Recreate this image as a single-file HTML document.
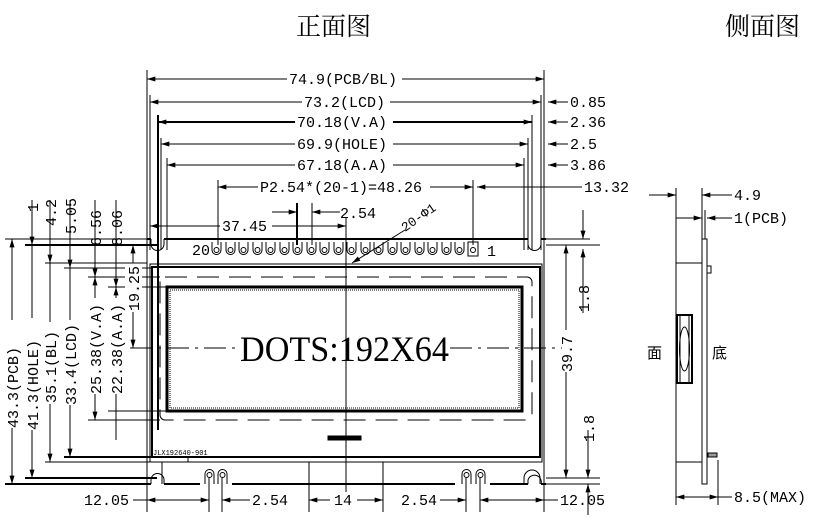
<!DOCTYPE html>
<html><head><meta charset="utf-8"><style>
html,body{margin:0;padding:0;background:#fff;}
svg{display:block}
text{fill:#000}
line,rect,path,circle,ellipse,polyline{stroke:#000;fill:none}
</style></head><body>
<svg width="826" height="520" viewBox="0 0 826 520" xmlns="http://www.w3.org/2000/svg" stroke-width="1" font-family="Liberation Mono, Noto Sans CJK SC, monospace" font-size="15">
<defs>
<marker id="a" viewBox="0 0 10 6" refX="10" refY="3" markerWidth="12" markerHeight="5" orient="auto-start-reverse" markerUnits="userSpaceOnUse"><path d="M0,0L10,3L0,6z" style="fill:#000;stroke:none"/></marker>
</defs>
<text x="296" y="35" font-family="Noto Serif CJK SC, Noto Sans CJK SC, serif" font-size="25">正面图</text>
<text x="725" y="35" font-family="Noto Serif CJK SC, Noto Sans CJK SC, serif" font-size="25">侧面图</text>

<!-- top vertical extension lines -->
<line x1="147" y1="70" x2="147" y2="484"/>
<line x1="544" y1="70" x2="544" y2="484"/>
<line x1="150" y1="95" x2="150" y2="250"/>
<line x1="541" y1="95" x2="541" y2="250"/>
<line x1="158" y1="115" x2="158" y2="430" stroke-width="2"/>
<line x1="532" y1="115" x2="532" y2="250"/>
<line x1="161" y1="138" x2="161" y2="250"/>
<line x1="528" y1="138" x2="528" y2="250"/>
<line x1="167" y1="158" x2="167" y2="250"/>
<line x1="524" y1="158" x2="524" y2="250"/>
<line x1="218" y1="180" x2="218" y2="245"/>
<line x1="473" y1="180" x2="473" y2="245"/>
<line x1="297" y1="203" x2="297" y2="245" stroke-width="2"/>
<line x1="312" y1="203" x2="312" y2="245"/>
<line x1="346" y1="218" x2="346" y2="500"/>

<!-- horizontal dims -->
<line x1="147" y1="79" x2="287" y2="79" marker-start="url(#a)"/><text x="289" y="84">74.9(PCB/BL)</text><line x1="402" y1="79" x2="544" y2="79" marker-end="url(#a)"/>
<line x1="150" y1="102" x2="302" y2="102" marker-start="url(#a)"/><text x="304" y="107">73.2(LCD)</text><line x1="390" y1="102" x2="541" y2="102" marker-end="url(#a)"/>
<line x1="548" y1="102" x2="568" y2="102" marker-start="url(#a)"/><text x="570" y="107">0.85</text>
<line x1="158" y1="122" x2="295" y2="122" marker-start="url(#a)" stroke-width="2"/><text x="297" y="127">70.18(V.A)</text><line x1="393" y1="122" x2="532" y2="122" marker-end="url(#a)" stroke-width="2"/>
<line x1="548" y1="122" x2="568" y2="122" marker-start="url(#a)"/><text x="570" y="127">2.36</text>
<line x1="161" y1="144" x2="295" y2="144" marker-start="url(#a)"/><text x="297" y="149">69.9(HOLE)</text><line x1="393" y1="144" x2="528" y2="144" marker-end="url(#a)"/>
<line x1="548" y1="144" x2="568" y2="144" marker-start="url(#a)"/><text x="570" y="149">2.5</text>
<line x1="167" y1="165" x2="295" y2="165" marker-start="url(#a)"/><text x="297" y="170">67.18(A.A)</text><line x1="393" y1="165" x2="524" y2="165" marker-end="url(#a)"/>
<line x1="548" y1="165" x2="568" y2="165" marker-start="url(#a)"/><text x="570" y="170">3.86</text>
<line x1="218" y1="187" x2="258" y2="187" marker-start="url(#a)"/><text x="260" y="192">P2.54*(20-1)=48.26</text><line x1="430" y1="187" x2="473" y2="187" marker-end="url(#a)"/>
<line x1="477" y1="187" x2="582" y2="187" marker-start="url(#a)"/><text x="584" y="192">13.32</text>
<line x1="272" y1="212" x2="297" y2="212" marker-end="url(#a)"/><line x1="312" y1="212" x2="340" y2="212" marker-start="url(#a)"/><text x="340" y="218">2.54</text>
<line x1="150" y1="226" x2="220" y2="226" marker-start="url(#a)"/><text x="222" y="231">37.45</text><line x1="272" y1="226" x2="346" y2="226" marker-end="url(#a)"/>
<line x1="352" y1="263" x2="405" y2="230" marker-start="url(#a)"/><text x="405" y="232" font-size="13" transform="rotate(-35 405 232)">20-Φ1</text>

<!-- PCB outline -->
<path d="M147,239 H151 M164,239 H528 M541,239 H546" stroke-width="2"/>
<path d="M151,239 V244 A6.5,6.5 0 0 0 164,244 V239"/>
<path d="M528,239 V244 A6.5,6.5 0 0 0 541,244 V239"/>
<path d="M147,484 H151 M164,484 H200 M232,484 H455 M490,484 H528 M541,484 H546" stroke-width="2"/>
<path d="M151,484 V480 A6.5,6.5 0 0 1 164,480 V484"/>
<path d="M528,484 V480 A6.5,6.5 0 0 1 541,484 V484"/>
<line x1="162" y1="462" x2="162" y2="484"/>
<line x1="383" y1="462" x2="383" y2="484"/>
<line x1="309" y1="462" x2="309" y2="484"/>
<text x="192" y="255">20</text><text x="487" y="256">1</text>
<g>
<path d="M212,242 v8 a4.5,4.5 0 0 0 9,0 v-8"/><circle cx="216.5" cy="250" r="2.5"/>
<path d="M226,242 v8 a4.5,4.5 0 0 0 9,0 v-8"/><circle cx="230.5" cy="250" r="2.5"/>
<path d="M239,242 v8 a4.5,4.5 0 0 0 9,0 v-8"/><circle cx="243.5" cy="250" r="2.5"/>
<path d="M253,242 v8 a4.5,4.5 0 0 0 9,0 v-8"/><circle cx="257.5" cy="250" r="2.5"/>
<path d="M266,242 v8 a4.5,4.5 0 0 0 9,0 v-8"/><circle cx="270.5" cy="250" r="2.5"/>
<path d="M280,242 v8 a4.5,4.5 0 0 0 9,0 v-8"/><circle cx="284.5" cy="250" r="2.5"/>
<path d="M293,242 v8 a4.5,4.5 0 0 0 9,0 v-8"/><circle cx="297.5" cy="250" r="2.5"/>
<path d="M307,242 v8 a4.5,4.5 0 0 0 9,0 v-8"/><circle cx="311.5" cy="250" r="2.5"/>
<path d="M320,242 v8 a4.5,4.5 0 0 0 9,0 v-8"/><circle cx="324.5" cy="250" r="2.5"/>
<path d="M334,242 v8 a4.5,4.5 0 0 0 9,0 v-8"/><circle cx="338.5" cy="250" r="2.5"/>
<path d="M347,242 v8 a4.5,4.5 0 0 0 9,0 v-8"/><circle cx="351.5" cy="250" r="2.5"/>
<path d="M361,242 v8 a4.5,4.5 0 0 0 9,0 v-8"/><circle cx="365.5" cy="250" r="2.5"/>
<path d="M374,242 v8 a4.5,4.5 0 0 0 9,0 v-8"/><circle cx="378.5" cy="250" r="2.5"/>
<path d="M388,242 v8 a4.5,4.5 0 0 0 9,0 v-8"/><circle cx="392.5" cy="250" r="2.5"/>
<path d="M401,242 v8 a4.5,4.5 0 0 0 9,0 v-8"/><circle cx="405.5" cy="250" r="2.5"/>
<path d="M415,242 v8 a4.5,4.5 0 0 0 9,0 v-8"/><circle cx="419.5" cy="250" r="2.5"/>
<path d="M428,242 v8 a4.5,4.5 0 0 0 9,0 v-8"/><circle cx="432.5" cy="250" r="2.5"/>
<path d="M442,242 v8 a4.5,4.5 0 0 0 9,0 v-8"/><circle cx="446.5" cy="250" r="2.5"/>
<path d="M455,242 v8 a4.5,4.5 0 0 0 9,0 v-8"/><circle cx="459.5" cy="250" r="2.5"/>
<rect x="468" y="242" width="10" height="14"/><circle cx="473" cy="250" r="2.5"/>
</g>
<!-- bottom pins -->
<path d="M205,484 v-10 a4.5,4.5 0 0 1 9,0 v10"/><circle cx="209.5" cy="475" r="2.5"/>
<path d="M218,484 v-10 a4.5,4.5 0 0 1 9,0 v10"/><circle cx="222.5" cy="475" r="2.5"/>
<path d="M462,484 v-10 a4.5,4.5 0 0 1 9,0 v10"/><circle cx="466.5" cy="475" r="2.5"/>
<path d="M476,484 v-10 a4.5,4.5 0 0 1 9,0 v10"/><circle cx="480.5" cy="475" r="2.5"/>
<path d="M524,484 v-6 a8,8 0 0 1 16,0 v6"/>

<!-- LCD -->
<rect x="150" y="264" width="392" height="198"/>
<rect x="152" y="267" width="388" height="190" stroke-width="2"/>
<path d="M152,462 H188 V456"/>
<text x="153" y="455" font-size="7">JLX192640-901</text>
<rect x="160" y="277" width="372" height="143" rx="5" stroke-dasharray="22,10"/>
<rect x="167" y="287" width="355" height="124" stroke-width="3"/>
<rect x="170" y="290" width="349" height="118" stroke-dasharray="1,1"/>
<rect x="328" y="436" width="33" height="4" style="fill:#000"/>
<line x1="346" y1="255" x2="346" y2="510" stroke-dasharray="22,6,3,6"/>
<line x1="130" y1="348" x2="238" y2="348" stroke-dasharray="22,6,3,6"/>
<line x1="450" y1="348" x2="562" y2="348" stroke-dasharray="22,6,3,6"/>
<text x="240" y="361" font-family="Liberation Serif, serif" font-size="36" textLength="209" lengthAdjust="spacingAndGlyphs">DOTS:192X64</text>

<!-- left horizontal extension lines -->
<line x1="5" y1="239" x2="147" y2="239"/>
<line x1="25" y1="245" x2="157" y2="245" stroke-width="2"/>
<line x1="45" y1="263" x2="147" y2="263"/>
<line x1="64" y1="268" x2="152" y2="268"/>
<line x1="88" y1="277" x2="160" y2="277"/>
<line x1="108" y1="287" x2="167" y2="287"/>
<line x1="88" y1="420" x2="160" y2="420"/>
<line x1="108" y1="411" x2="167" y2="411"/>
<line x1="64" y1="457" x2="152" y2="457" stroke-width="2"/>
<line x1="45" y1="462" x2="150" y2="462"/>
<line x1="25" y1="478" x2="157" y2="478" stroke-width="2"/>
<line x1="5" y1="484" x2="147" y2="484" stroke-width="2"/>
<!-- left vertical dims -->
<line x1="12" y1="239" x2="12" y2="484" marker-start="url(#a)" marker-end="url(#a)"/>
<line x1="32" y1="200" x2="32" y2="245" marker-end="url(#a)"/><line x1="32" y1="245" x2="32" y2="478" marker-end="url(#a)"/>
<line x1="50" y1="200" x2="50" y2="263" marker-end="url(#a)"/><line x1="50" y1="263" x2="50" y2="462" marker-end="url(#a)"/>
<line x1="70" y1="200" x2="70" y2="268" marker-end="url(#a)"/><line x1="70" y1="268" x2="70" y2="457" marker-end="url(#a)"/>
<line x1="95" y1="200" x2="95" y2="277" marker-end="url(#a)"/><line x1="95" y1="277" x2="95" y2="420" marker-start="url(#a)" marker-end="url(#a)"/>
<line x1="116" y1="200" x2="116" y2="287" marker-end="url(#a)"/><line x1="116" y1="287" x2="116" y2="440" marker-start="url(#a)"/>
<line x1="133" y1="245" x2="133" y2="263" marker-start="url(#a)"/><line x1="133" y1="285" x2="133" y2="348" marker-end="url(#a)"/>
<rect x="4" y="320" width="17" height="108" style="fill:#fff;stroke:none"/>
<rect x="24" y="318" width="17" height="112" style="fill:#fff;stroke:none"/>
<rect x="42" y="322" width="17" height="82" style="fill:#fff;stroke:none"/>
<rect x="62" y="320" width="17" height="85" style="fill:#fff;stroke:none"/>
<rect x="87" y="298" width="17" height="96" style="fill:#fff;stroke:none"/>
<rect x="108" y="298" width="17" height="96" style="fill:#fff;stroke:none"/>
<rect x="125" y="264" width="17" height="48" style="fill:#fff;stroke:none"/>
<text transform="translate(18,428) rotate(-90)">43.3(PCB)</text>
<text transform="translate(38,430) rotate(-90)">41.3(HOLE)</text>
<text transform="translate(56,403) rotate(-90)">35.1(BL)</text>
<text transform="translate(76,405) rotate(-90)">33.4(LCD)</text>
<text transform="translate(101,394) rotate(-90)">25.38(V.A)</text>
<text transform="translate(122,394) rotate(-90)">22.38(A.A)</text>
<text transform="translate(139,311) rotate(-90)">19.25</text>
<text transform="translate(38,212) rotate(-90)">1</text>
<text transform="translate(56,226) rotate(-90)">4.2</text>
<text transform="translate(76,234) rotate(-90)">5.05</text>
<text transform="translate(101,246) rotate(-90)">6.56</text>
<text transform="translate(122,246) rotate(-90)">8.06</text>

<!-- right dims -->
<line x1="546" y1="239" x2="590" y2="239"/>
<line x1="546" y1="245" x2="600" y2="245"/>
<line x1="546" y1="478" x2="600" y2="478"/>
<line x1="546" y1="484" x2="600" y2="484"/>
<line x1="583" y1="210" x2="583" y2="239" marker-end="url(#a)"/>
<line x1="583" y1="313" x2="583" y2="249" marker-end="url(#a)"/>
<text transform="translate(589,312) rotate(-90)">1.8</text>
<line x1="566" y1="245" x2="566" y2="330" marker-start="url(#a)"/>
<text transform="translate(572,372) rotate(-90)">39.7</text>
<line x1="566" y1="372" x2="566" y2="478" marker-end="url(#a)"/>
<line x1="588" y1="430" x2="588" y2="478" marker-end="url(#a)"/>
<text transform="translate(594,442) rotate(-90)">1.8</text>
<line x1="588" y1="515" x2="588" y2="484" marker-end="url(#a)"/>

<!-- bottom dims -->
<line x1="147" y1="484" x2="147" y2="512"/><line x1="209" y1="478" x2="209" y2="512"/><line x1="222" y1="478" x2="222" y2="512"/>
<line x1="309" y1="484" x2="309" y2="512"/><line x1="383" y1="484" x2="383" y2="512"/>
<line x1="466" y1="478" x2="466" y2="512"/><line x1="480" y1="478" x2="480" y2="512"/><line x1="544" y1="484" x2="544" y2="512"/>
<text x="84" y="505">12.05</text><line x1="133" y1="500" x2="147" y2="500"/><line x1="147" y1="500" x2="209" y2="500" marker-start="url(#a)" marker-end="url(#a)"/>
<line x1="222" y1="500" x2="250" y2="500" marker-start="url(#a)"/><text x="252" y="505">2.54</text>
<line x1="309" y1="500" x2="330" y2="500" marker-start="url(#a)"/><rect x="331" y="492" width="24" height="16" style="fill:#fff;stroke:none"/><text x="334" y="505">14</text><line x1="357" y1="500" x2="383" y2="500" marker-end="url(#a)"/>
<text x="401" y="505">2.54</text><line x1="440" y1="500" x2="466" y2="500" marker-end="url(#a)"/>
<line x1="480" y1="500" x2="544" y2="500" marker-start="url(#a)" marker-end="url(#a)"/><line x1="544" y1="500" x2="558" y2="500"/><text x="560" y="505">12.05</text>

<!-- side view -->
<line x1="676" y1="188" x2="676" y2="263"/>
<line x1="702" y1="188" x2="702" y2="239"/>
<line x1="705" y1="210" x2="705" y2="239"/>
<line x1="649" y1="195" x2="676" y2="195" marker-end="url(#a)"/>
<line x1="702" y1="195" x2="732" y2="195" marker-start="url(#a)"/><text x="734" y="200">4.9</text>
<line x1="676" y1="218" x2="702" y2="218" marker-end="url(#a)"/>
<line x1="707" y1="218" x2="732" y2="218" marker-start="url(#a)"/><text x="734" y="223">1(PCB)</text>
<rect x="702" y="239" width="5" height="245"/>
<rect x="676" y="263" width="26" height="199"/>
<rect x="677" y="315" width="15" height="68" stroke-width="2"/>
<line x1="680" y1="315" x2="680" y2="383"/><line x1="689" y1="315" x2="689" y2="383"/>
<ellipse cx="684.5" cy="349" rx="5" ry="22"/>
<rect x="707" y="266" width="4" height="7"/>
<rect x="708" y="453" width="9" height="4" style="fill:#999"/>
<text x="647" y="358" font-family="Noto Sans CJK SC, sans-serif">面</text>
<text x="712" y="358" font-family="Noto Sans CJK SC, sans-serif">底</text>
<line x1="676" y1="462" x2="676" y2="505"/>
<line x1="718" y1="460" x2="718" y2="505"/>
<line x1="676" y1="497" x2="718" y2="497" marker-start="url(#a)" marker-end="url(#a)"/>
<line x1="718" y1="497" x2="732" y2="497"/><text x="734" y="502">8.5(MAX)</text>
</svg>
</body></html>
